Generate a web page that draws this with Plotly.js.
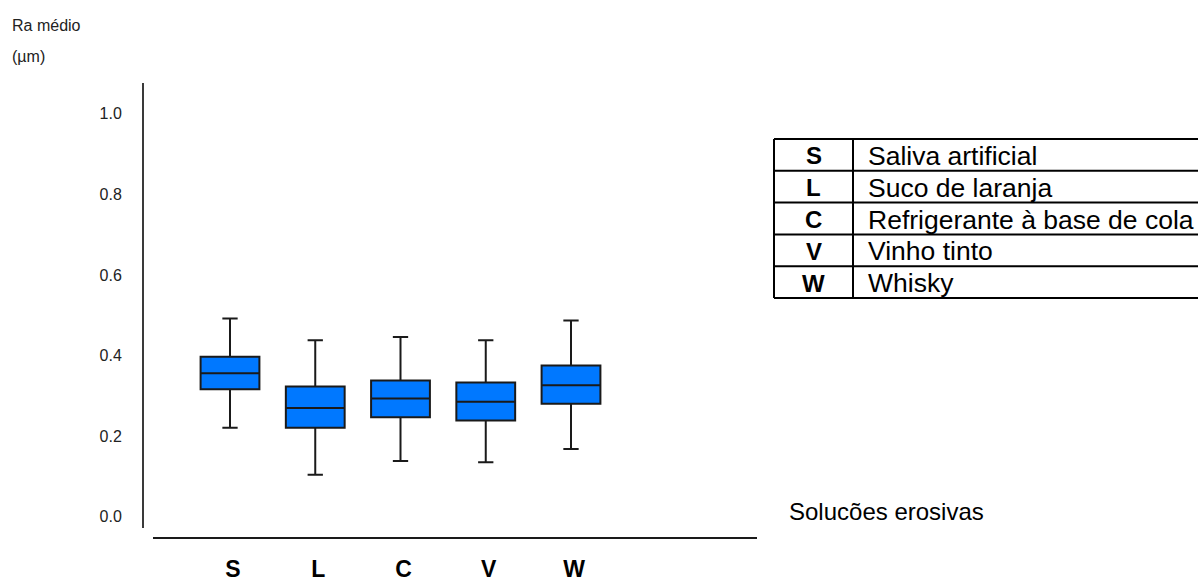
<!DOCTYPE html>
<html>
<head>
<meta charset="utf-8">
<script src="https://cdn.plot.ly/plotly-3.0.1.min.js"></script>
<style>html,body{margin:0;padding:0;background:#fff;}#chart{width:1198px;height:583px;}</style>
</head>
<body>
<div id="chart"></div>
<script>
// ---- data ----
const categories   = ['S', 'L', 'C', 'V', 'W'];
const upperWhisker = [0.492, 0.438, 0.446, 0.438, 0.487];
const q3Values     = [0.397, 0.323, 0.338, 0.333, 0.375];
const medianValues = [0.356, 0.270, 0.293, 0.285, 0.326];
const q1Values     = [0.316, 0.221, 0.247, 0.239, 0.280];
const lowerWhisker = [0.221, 0.104, 0.138, 0.135, 0.168];
const yTickValues  = [0.0, 0.2, 0.4, 0.6, 0.8, 1.0];
const legendCodes  = ['S', 'L', 'C', 'V', 'W'];
const legendNames  = ['Saliva artificial', 'Suco de laranja', 'Refrigerante à base de cola', 'Vinho tinto', 'Whisky'];

// ---- geometry helpers (pixel -> paper) ----
const W = 1198, H = 583;
const M = {l: 143, r: W - 757, t: 83, b: H - 538};
const PW = W - M.l - M.r, PH = H - M.t - M.b;
const px = x => (x - M.l) / PW;
const py = y => (H - M.b - y) / PH;

const FONT = '"Liberation Sans", Arial, sans-serif';

const trace = {
  type: 'box',
  x: categories,
  q1: q1Values,
  median: medianValues,
  q3: q3Values,
  lowerfence: lowerWhisker,
  upperfence: upperWhisker,
  boxpoints: false,
  fillcolor: '#0078ff',
  line: {color: '#1a1a1a', width: 2},
  whiskerwidth: 0.26,
  showlegend: false,
  hoverinfo: 'skip'
};

const shapes = [];
const annotations = [];

// axis lines
shapes.push({type: 'line', xref: 'paper', yref: 'paper', x0: 0, x1: 0, y0: py(528), y1: 1, line: {color: '#3a3a3a', width: 2}});
shapes.push({type: 'line', xref: 'paper', yref: 'paper', x0: px(153), x1: 1, y0: 0, y1: 0, line: {color: '#1a1a1a', width: 2}});

// legend table
const tL = 774, tM = 853, tR = 1200, tTop = 139, rowH = 31.8;
const nRows = legendCodes.length;
for (let i = 0; i <= nRows; i++) {
  const yy = tTop + i * rowH;
  shapes.push({type: 'line', xref: 'paper', yref: 'paper', x0: px(tL), x1: px(tR), y0: py(yy), y1: py(yy), line: {color: '#000', width: 2}});
}
[tL, tM].forEach(xx => shapes.push({type: 'line', xref: 'paper', yref: 'paper', x0: px(xx), x1: px(xx), y0: py(tTop), y1: py(tTop + nRows * rowH), line: {color: '#000', width: 2}}));
legendCodes.forEach((c, i) => {
  const yc = tTop + (i + 0.5) * rowH;
  annotations.push({xref: 'paper', yref: 'paper', x: px((tL + tM) / 2), y: py(yc + 1), text: '<b>' + c + '</b>', showarrow: false, xanchor: 'center', yanchor: 'middle', font: {family: FONT, size: 24, color: '#000'}});
  annotations.push({xref: 'paper', yref: 'paper', x: px(866), y: py(yc + 1), text: legendNames[i], showarrow: false, xanchor: 'left', yanchor: 'middle', font: {family: FONT, size: 26.5, color: '#000'}});
});

// x axis title
annotations.push({xref: 'paper', yref: 'paper', x: px(787), y: py(511), text: 'Solucões erosivas', showarrow: false, xanchor: 'left', yanchor: 'middle', font: {family: FONT, size: 24, color: '#000'}});
// y axis title
annotations.push({xref: 'paper', yref: 'paper', x: px(10), y: py(25), text: 'Ra médio', showarrow: false, xanchor: 'left', yanchor: 'middle', font: {family: FONT, size: 16, color: '#222'}});
annotations.push({xref: 'paper', yref: 'paper', x: px(10), y: py(56), text: '(µm)', showarrow: false, xanchor: 'left', yanchor: 'middle', font: {family: FONT, size: 16, color: '#222'}});

const spacing = 85.25, firstCenter = 230;
const layout = {
  width: W, height: H,
  margin: M,
  paper_bgcolor: '#fff', plot_bgcolor: '#fff',
  boxgap: 0.31,
  boxgroupgap: 0,
  xaxis: {
    type: 'category',
    range: [(M.l - firstCenter) / spacing, (M.l + PW - firstCenter) / spacing],
    showgrid: false, zeroline: false, showline: false,
    ticks: 'outside', ticklen: 10, tickcolor: 'rgba(0,0,0,0)',
    tickvals: categories,
    ticktext: categories.map(c => '<b>' + c + '</b>'),
    tickfont: {family: FONT, size: 23, color: '#000'},
    ticklabelshift: 3,
    fixedrange: true
  },
  yaxis: {
    range: [(516.7 - 538) / 403, (516.7 - 83) / 403],
    showgrid: false, zeroline: false, showline: false,
    tickvals: yTickValues,
    tickformat: '.1f',
    ticks: 'outside', ticklen: 17, tickcolor: 'rgba(0,0,0,0)',
    tickfont: {family: FONT, size: 16, color: '#222'},
    fixedrange: true
  },
  shapes: shapes,
  annotations: annotations
};

Plotly.newPlot('chart', [trace], layout, {displayModeBar: false, staticPlot: true});
</script>
</body>
</html>
